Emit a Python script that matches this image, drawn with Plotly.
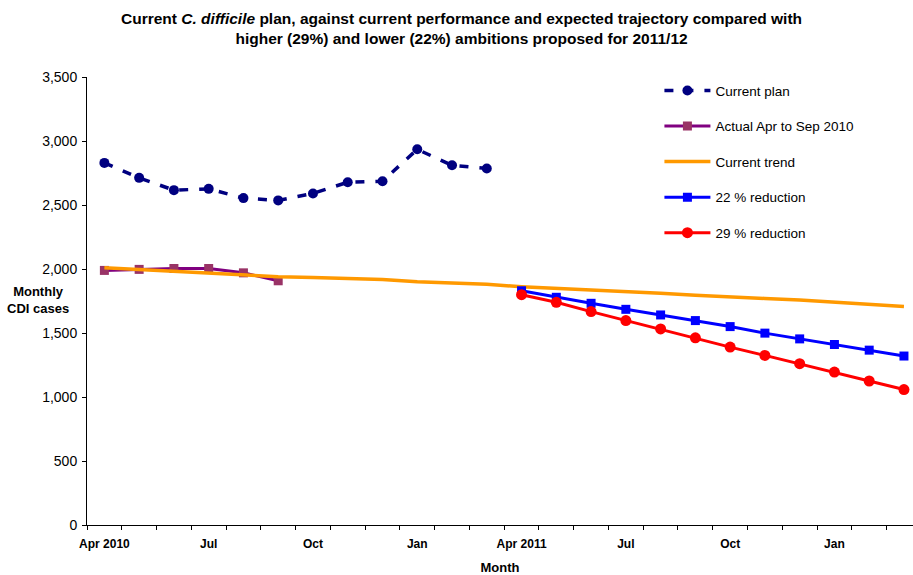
import plotly.graph_objects as go

# Monthly index 0 = Apr 2010 ... 23 = Mar 2012
months = ["Apr 2010", "May", "Jun", "Jul", "Aug", "Sep", "Oct", "Nov", "Dec", "Jan", "Feb", "Mar",
          "Apr 2011", "May", "Jun", "Jul", "Aug", "Sep", "Oct", "Nov", "Dec", "Jan", "Feb", "Mar"]

current_plan = [2829, 2712, 2616, 2626, 2554, 2536, 2590, 2678, 2686, 2935, 2810, 2785]
actual_2010 = [1989, 1997, 2004, 2004, 1970, 1908]
current_trend = [2010, 1995, 1982, 1968, 1955, 1940, 1933, 1927, 1918, 1900, 1893, 1880,
                 1862, 1850, 1838, 1825, 1810, 1795, 1785, 1770, 1758, 1742, 1730, 1708]
reduction_22 = [1830, 1779, 1732, 1685, 1641, 1597, 1550, 1499, 1454, 1410, 1366, 1320]
reduction_29 = [1799, 1740, 1667, 1597, 1532, 1462, 1390, 1325, 1260, 1195, 1125, 1058]

tick_idx = [0, 3, 6, 9, 12, 15, 18, 21]
tick_text = ["Apr 2010", "Jul", "Oct", "Jan", "Apr 2011", "Jul", "Oct", "Jan"]

FONT = "Liberation Sans, Arial, sans-serif"
idx = list(range(len(months)))

fig = go.Figure()
fig.add_trace(go.Scatter(
    x=idx[:len(current_plan)], y=current_plan, name="Current plan", legendgroup="a",
    mode="lines+markers", line=dict(color="#000080", width=3.5, dash="9px,11px"),
    marker=dict(symbol="circle", size=10, color="#000080")))
fig.add_trace(go.Scatter(
    x=idx[:len(actual_2010)], y=actual_2010, name="Actual Apr to Sep 2010", legendgroup="b",
    mode="lines+markers", line=dict(color="#800080", width=3),
    marker=dict(symbol="square", size=9, color="#993366")))
fig.add_trace(go.Scatter(
    x=idx, y=current_trend, name="Current trend", legendgroup="c",
    mode="lines", line=dict(color="#FF9900", width=3.5)))
fig.add_trace(go.Scatter(
    x=idx[12:], y=reduction_22, name="22 % reduction", legendgroup="d",
    mode="lines+markers", line=dict(color="#0000FF", width=3),
    marker=dict(symbol="square", size=9, color="#0000FF")))
fig.add_trace(go.Scatter(
    x=idx[12:], y=reduction_29, name="29 % reduction", legendgroup="e",
    mode="lines+markers", line=dict(color="#FF0000", width=3),
    marker=dict(symbol="circle", size=11, color="#FF0000")))

fig.update_layout(
    width=913, height=575,
    margin=dict(l=87, r=0, t=77, b=48),
    paper_bgcolor="white", plot_bgcolor="white",
    font=dict(family=FONT, size=13, color="black"),
    legend=dict(
        x=0.693, xanchor="left", y=1.004, yanchor="top",
        bgcolor="rgba(0,0,0,0)", borderwidth=0,
        font=dict(family=FONT, size=13.5, color="black"),
        itemwidth=46, tracegroupgap=15),
    xaxis=dict(
        range=[-0.5, 23.26], tickmode="array", tickvals=tick_idx, ticktext=tick_text,
        ticks="", showgrid=False, zeroline=False, ticklabelstandoff=8,
        showline=True, linecolor="black", linewidth=1,
        tickfont=dict(family=FONT, size=12, color="black", weight="bold"),
        minor=dict(tick0=0.5, dtick=1, ticks="outside", ticklen=4, tickcolor="black", showgrid=False),
        title=dict(text="Month", font=dict(family=FONT, size=13, color="black", weight="bold"), standoff=14)),
    yaxis=dict(
        range=[0, 3500], dtick=500, tickformat=",d",
        ticks="outside", ticklen=4, tickcolor="black",
        showgrid=False, zeroline=False, ticklabelstandoff=2,
        showline=True, linecolor="black", linewidth=1,
        tickfont=dict(family=FONT, size=14, color="black")),
)

# Two-line chart heading
fig.add_annotation(
    text="<b>Current <i>C. difficile</i> plan, against current performance and expected trajectory compared with<br>"
         "higher (29%) and lower (22%) ambitions proposed for 2011/12</b>",
    xref="paper", yref="paper", x=0.453, y=1.155, xanchor="center", yanchor="top",
    showarrow=False, align="center",
    font=dict(family=FONT, size=15.5, color="black"))

fig.add_annotation(
    text="<b>Monthly<br>CDI cases</b>", xref="paper", yref="y",
    x=-0.059, y=1760, xanchor="center", yanchor="middle", showarrow=False,
    font=dict(family=FONT, size=13, color="black"), align="center")

fig.write_html("out.html")
